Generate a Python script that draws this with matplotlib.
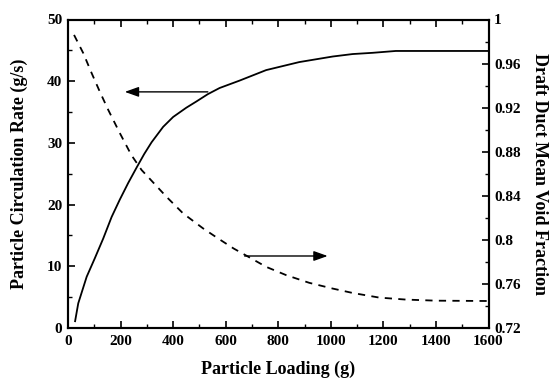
import matplotlib
matplotlib.use("Agg")
import matplotlib.pyplot as plt
from matplotlib.ticker import MultipleLocator

loading_rate = [27, 39, 71, 102, 134, 166, 197, 229, 261, 290, 318, 362, 400, 450, 488, 532, 577, 653, 754, 880, 1007, 1083, 1159, 1247, 1400, 1600]
circ_rate = [1.1, 4.0, 8.3, 11.3, 14.5, 18.0, 20.8, 23.5, 26.0, 28.2, 30.1, 32.6, 34.2, 35.7, 36.7, 37.9, 38.9, 40.1, 41.8, 43.1, 44.0, 44.4, 44.6, 44.9, 44.9, 44.9]

loading_void = [23, 58, 90, 121, 153, 197, 241, 280, 305, 375, 438, 514, 571, 630, 691, 754, 830, 918, 1007, 1083, 1184, 1285, 1400, 1600]
void_frac = [0.986, 0.9695, 0.9513, 0.9345, 0.918, 0.897, 0.877, 0.8634, 0.857, 0.839, 0.824, 0.8104, 0.8013, 0.7922, 0.784, 0.7755, 0.768, 0.761, 0.7558, 0.7518, 0.7476, 0.7458, 0.7448, 0.7445]

x_ticks = [0, 200, 400, 600, 800, 1000, 1200, 1400, 1600]
left_ticks = [0, 10, 20, 30, 40, 50]
right_ticks = [0.72, 0.76, 0.8, 0.84, 0.88, 0.92, 0.96, 1.0]
right_labels = ["0.72", "0.76", "0.8", "0.84", "0.88", "0.92", "0.96", "1"]

plt.rcParams['font.family'] = ['Liberation Serif', 'DejaVu Serif']
plt.rcParams['font.weight'] = 'bold'

fig = plt.figure(figsize=(5.59, 3.79), dpi=100)
ax = fig.add_axes([68/559, 1-328/379, (488.5-68)/559, (328-19.5)/379])
ax2 = ax.twinx()

ax.plot(loading_rate, circ_rate, color='black', lw=1.3)
ax2.plot(loading_void, void_frac, color='black', lw=1.3, ls=(0, (4, 3.5)))

ax.set_xlim(0, 1600)
ax.set_ylim(0, 50)
ax2.set_ylim(0.72, 1.0)

ax.set_xticks(x_ticks)
ax.set_xticklabels([str(t) for t in x_ticks], fontweight='bold', fontsize=11)
ax.set_yticks(left_ticks)
ax.set_yticklabels([str(t) for t in left_ticks], fontweight='bold', fontsize=11)
ax.xaxis.set_minor_locator(MultipleLocator(100))
ax.yaxis.set_minor_locator(MultipleLocator(5))
ax2.set_yticks(right_ticks)
ax2.set_yticklabels(right_labels, fontweight='bold', fontsize=11)
ax2.yaxis.set_minor_locator(MultipleLocator(0.02))

ax.tick_params(axis='x', which='both', direction='in', top=True, bottom=True, pad=5)
ax.tick_params(axis='y', which='both', direction='in', left=True, right=False, pad=4)
ax.tick_params(which='major', length=5, width=1.2)
ax.tick_params(which='minor', length=3, width=1.0)
ax2.tick_params(axis='y', which='both', direction='in', pad=4)
ax2.tick_params(which='major', length=5, width=1.2)
ax2.tick_params(which='minor', length=3, width=1.0)

for a in (ax, ax2):
    for s in a.spines.values():
        s.set_linewidth(1.5)

ax.set_xlabel("Particle Loading (g)", fontweight='bold', fontsize=13, labelpad=9)
ax.set_ylabel("Particle Circulation Rate (g/s)", fontweight='bold', fontsize=13, labelpad=14)
ax2.set_ylabel("Draft Duct Mean Void Fraction", fontweight='bold', fontsize=13, rotation=270, labelpad=20)

ax.annotate("", xy=(216, 38.27), xytext=(532, 38.27),
            arrowprops=dict(arrowstyle='-|>,head_length=0.7,head_width=0.25', color='black', lw=1.0,
                            mutation_scale=12, shrinkA=0, shrinkB=0))
ax.annotate("", xy=(988, 11.67), xytext=(672, 11.67),
            arrowprops=dict(arrowstyle='-|>,head_length=0.7,head_width=0.25', color='black', lw=1.0,
                            mutation_scale=12, shrinkA=0, shrinkB=0))

fig.savefig("out.png", dpi=100)
